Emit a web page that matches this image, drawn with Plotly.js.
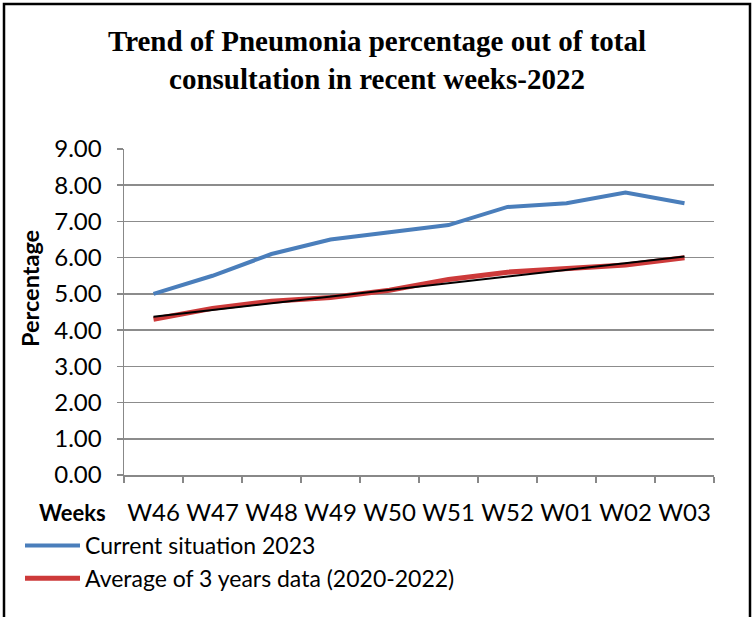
<!DOCTYPE html>
<html>
<head>
<meta charset="utf-8">
<script src="https://cdn.plot.ly/plotly-3.0.1.min.js"></script>
<style>html,body{margin:0;padding:0;background:#fff;}#chart{width:754px;height:617px;}</style>
</head>
<body>
<div id="chart"></div>
<script>
const weeks = ["W46","W47","W48","W49","W50","W51","W52","W01","W02","W03"];
const current2023 = [5.0,5.5,6.1,6.5,6.7,6.9,7.4,7.5,7.8,7.5];
const avg3years = [4.3,4.6,4.8,4.9,5.1,5.4,5.6,5.7,5.8,6.0];
const trendWeeks = ["W46","W03"];
const trendValues = [4.37,6.03];
const yTicks = [0,1,2,3,4,5,6,7,8,9];
const yTickText = yTicks.map(v => v.toFixed(2));

const FONT = "Lato, 'Liberation Sans', sans-serif";
const tickFont = {family: FONT, size: 24, color: "#000"};
const PW = 590, PH = 326, ML = 124, MT = 149;

const traces = [
  {x: weeks, y: current2023, type: "scatter", mode: "lines", name: "Current situation 2023",
   line: {color: "#4a7ebb", width: 4}, legendgroup: "a"},
  {x: weeks, y: avg3years, type: "scatter", mode: "lines", name: "Average of 3 years data (2020-2022)",
   line: {color: "#cd3a3a", width: 5}, legendgroup: "b"},
  {x: trendWeeks, y: trendValues, type: "scatter", mode: "lines", name: "Trend",
   line: {color: "#000", width: 2}, showlegend: false, hoverinfo: "skip"}
];

function px(x){ return (x - ML) / PW; }
function py(y){ return (MT + PH - y) / PH; }

const layout = {
  width: 754, height: 617,
  margin: {l: ML, r: 754 - ML - PW, t: MT, b: 617 - MT - PH, autoexpand: false},
  paper_bgcolor: "#fff", plot_bgcolor: "#fff",
  title: {
    text: "<b>Trend of Pneumonia percentage out of total<br>consultation in recent weeks-2022</b>",
    font: {family: "'Liberation Serif', 'Times New Roman', serif", size: 29, color: "#000"},
    x: 0.5, xref: "container", xanchor: "center",
    y: 1 - 51/617, yref: "container", yanchor: "middle"
  },
  xaxis: {
    type: "category", categoryorder: "array", categoryarray: weeks,
    range: [-0.5, 9.5], tickson: "boundaries", tickangle: 0,
    showgrid: false, showline: true, linecolor: "#888", linewidth: 1.5,
    ticks: "outside", ticklen: 6, tickcolor: "#888", tickwidth: 1.5,
    tickfont: tickFont, ticklabelstandoff: 16, zeroline: false, fixedrange: true
  },
  yaxis: {
    range: [0, 9], tickvals: yTicks, ticktext: yTickText,
    showgrid: true, gridcolor: "#8c8c8c", gridwidth: 1.5,
    showline: true, linecolor: "#888", linewidth: 1.5,
    ticks: "outside", ticklen: 6, tickcolor: "#888", tickwidth: 1.5,
    tickfont: tickFont, ticklabelstandoff: 10, zeroline: false, fixedrange: true
  },
  showlegend: true,
  legend: {
    xref: "container", yref: "container",
    x: 20/754, y: 1 - 524/617, xanchor: "left", yanchor: "top",
    font: {family: FONT, size: 23, color: "#000"},
    bgcolor: "rgba(0,0,0,0)", tracegroupgap: 0, itemwidth: 55
  },
  annotations: [
    {text: "<b>Weeks</b>", xref: "paper", yref: "paper", x: px(72), y: py(512),
     xanchor: "center", yanchor: "middle", showarrow: false,
     font: {family: FONT, size: 22, color: "#000"}},
    {text: "<b>Percentage</b>", xref: "paper", yref: "paper", x: px(30), y: py(289),
     xanchor: "center", yanchor: "middle", textangle: -90, showarrow: false,
     font: {family: FONT, size: 23.5, color: "#000"}}
  ],
  shapes: [
    {type: "rect", xref: "paper", yref: "paper", x0: px(4), x1: px(750), y0: py(640), y1: py(4),
     line: {color: "#000", width: 2.5}, fillcolor: "rgba(0,0,0,0)", layer: "above"}
  ]
};

Plotly.newPlot("chart", traces, layout, {displayModeBar: false, staticPlot: true});
</script>
</body>
</html>
